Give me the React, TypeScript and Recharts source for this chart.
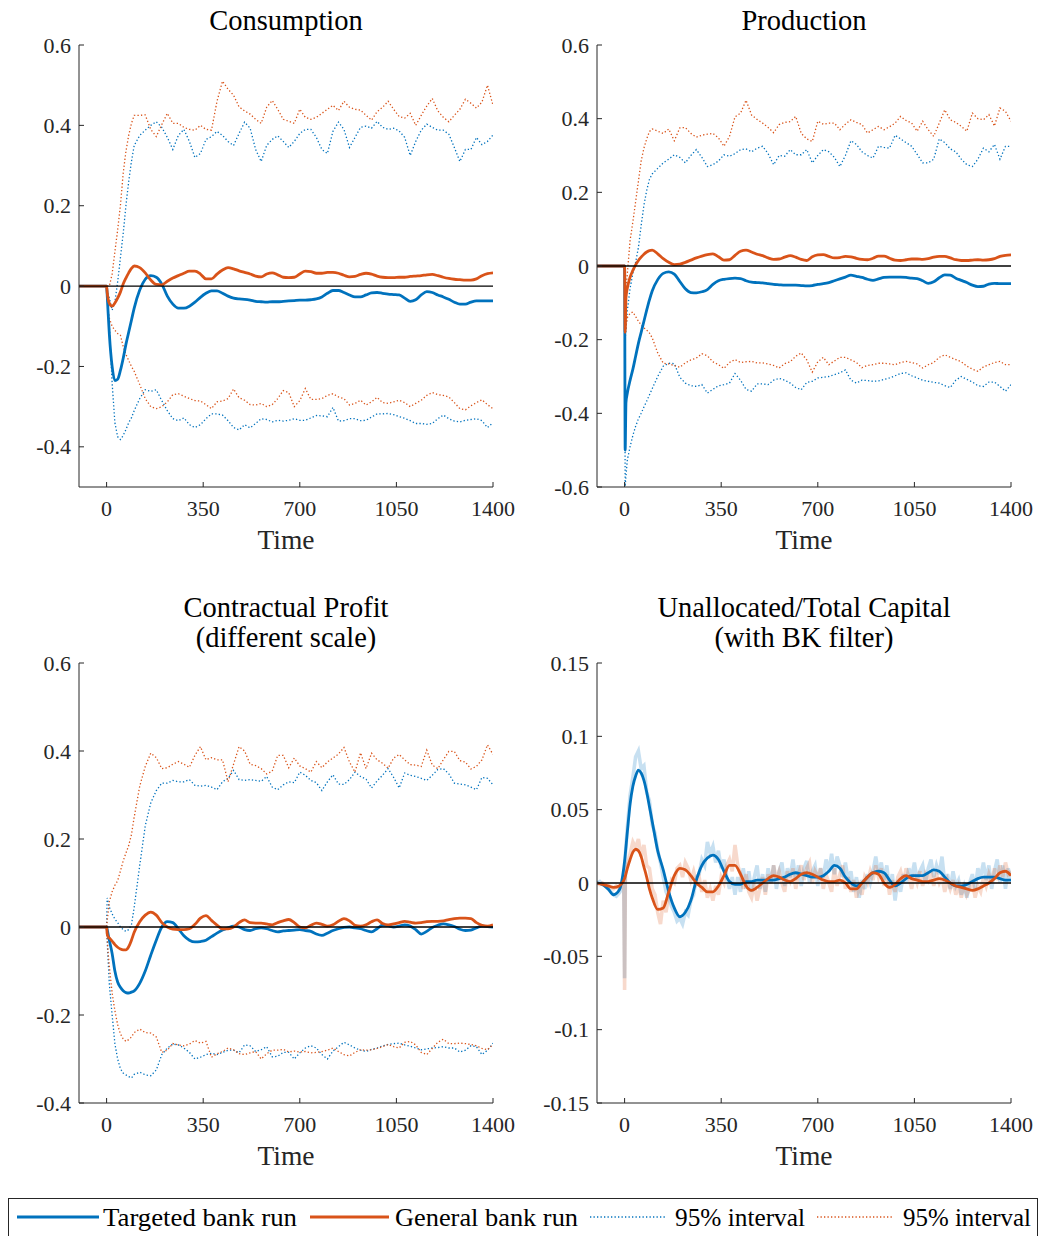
import React from 'react';
import { LineChart, Line, XAxis, YAxis, ReferenceLine } from 'recharts';

const BLUE = '#0072BD';
const ORANGE = '#D95319';
const INK = '#262626';
const FONT = '"Liberation Serif", "Times New Roman", serif';

// time grid shared by the first three panels
const timeGrid = [
  -100, 0, 2, 5, 10, 20, 30, 40, 50, 60, 70, 80, 90, 100,
  120, 140, 160, 180, 200, 220, 240, 260, 280, 300,
  320, 340, 360, 380, 400, 420, 440, 460, 480, 500,
  520, 540, 560, 580, 600, 620, 640, 660, 680, 700,
  720, 740, 760, 780, 800, 820, 840, 860, 880, 900,
  920, 940, 960, 980, 1000, 1020, 1040, 1060, 1080, 1100,
  1120, 1140, 1160, 1180, 1200, 1220, 1240, 1260, 1280, 1300,
  1320, 1340, 1360, 1380, 1400,
];
const xTicks = [0, 350, 700, 1050, 1400];
const xDomain = [-100, 1400];

// Consumption
const consTargeted = [
  0, 0, -0.02, -0.06, -0.12, -0.2, -0.235, -0.232, -0.21, -0.18, -0.145, -0.115, -0.085, -0.055,
  -0.01, 0.017, 0.026, 0.022, 0.005, -0.025, -0.045, -0.055, -0.055, -0.05,
  -0.04, -0.028, -0.018, -0.012, -0.012, -0.018, -0.025, -0.03, -0.032, -0.033,
  -0.035, -0.038, -0.039, -0.04, -0.039, -0.039, -0.038, -0.037, -0.036, -0.035,
  -0.035, -0.034, -0.032, -0.027, -0.018, -0.011, -0.011, -0.016, -0.022, -0.027,
  -0.027, -0.022, -0.017, -0.016, -0.018, -0.02, -0.021, -0.022, -0.03, -0.038,
  -0.034, -0.022, -0.014, -0.016, -0.022, -0.027, -0.033, -0.04, -0.045, -0.045,
  -0.04, -0.037, -0.037, -0.037, -0.037,
];
const consGeneral = [
  0, 0, -0.015, -0.03, -0.043, -0.05, -0.042, -0.03, -0.015, 0.005, 0.02, 0.033, 0.044, 0.05,
  0.046, 0.033, 0.015, 0.004, 0.003, 0.012, 0.02, 0.026, 0.032, 0.037,
  0.037, 0.03, 0.018, 0.018, 0.03, 0.04, 0.046, 0.043, 0.038, 0.034,
  0.03, 0.025, 0.023, 0.03, 0.033, 0.028, 0.022, 0.021, 0.022, 0.03,
  0.037, 0.036, 0.032, 0.032, 0.034, 0.034, 0.032, 0.027, 0.023, 0.024,
  0.029, 0.032, 0.03, 0.025, 0.022, 0.021, 0.021, 0.022, 0.022, 0.024,
  0.025, 0.026, 0.028, 0.029, 0.026, 0.022, 0.019, 0.017, 0.016, 0.015,
  0.015, 0.018, 0.026, 0.031, 0.033,
];
const consTargetedHi = [
  0, 0, -0.01, -0.02, -0.03, -0.06, -0.04, 0.01, 0.07, 0.13, 0.2, 0.26, 0.31, 0.35,
  0.375, 0.388, 0.4, 0.409, 0.395, 0.37, 0.34, 0.375, 0.39, 0.36,
  0.32, 0.33, 0.365, 0.372, 0.385, 0.375, 0.36, 0.35, 0.38, 0.408,
  0.393, 0.34, 0.31, 0.35, 0.365, 0.374, 0.36, 0.345, 0.36, 0.38,
  0.39, 0.39, 0.37, 0.34, 0.33, 0.385, 0.408, 0.39, 0.345, 0.37,
  0.395, 0.398, 0.393, 0.41, 0.395, 0.39, 0.393, 0.386, 0.37, 0.325,
  0.36, 0.388, 0.403, 0.395, 0.388, 0.388, 0.378, 0.345, 0.31, 0.34,
  0.34, 0.37, 0.352, 0.36, 0.376,
];
const consTargetedLo = [
  0, 0, -0.02, -0.05, -0.1, -0.24, -0.34, -0.375, -0.382, -0.372, -0.357, -0.34, -0.328, -0.31,
  -0.28, -0.258, -0.262, -0.258, -0.285, -0.31, -0.33, -0.335, -0.328, -0.345,
  -0.352, -0.345, -0.33, -0.318, -0.318, -0.321, -0.335, -0.352, -0.358, -0.345,
  -0.353, -0.342, -0.33, -0.332, -0.338, -0.334, -0.336, -0.334, -0.33, -0.334,
  -0.334, -0.328, -0.322, -0.323, -0.325, -0.302, -0.336, -0.335, -0.33, -0.33,
  -0.335, -0.334, -0.326, -0.318, -0.318, -0.317, -0.32, -0.325, -0.329, -0.335,
  -0.342, -0.342, -0.344, -0.342, -0.33, -0.321, -0.33, -0.336, -0.338, -0.334,
  -0.332, -0.33, -0.335, -0.352, -0.34,
];
const consGeneralHi = [
  0, 0, 0, 0, 0, 0.03, 0.085, 0.14, 0.2, 0.28, 0.335, 0.375, 0.405, 0.425,
  0.425, 0.426, 0.39, 0.372, 0.402, 0.43, 0.405, 0.405, 0.395, 0.39,
  0.388, 0.4, 0.39, 0.388, 0.46, 0.51, 0.49, 0.475, 0.446, 0.436,
  0.428, 0.415, 0.405, 0.445, 0.462, 0.44, 0.415, 0.41, 0.405, 0.44,
  0.42, 0.415, 0.42, 0.43, 0.44, 0.45, 0.437, 0.46, 0.445, 0.44,
  0.438, 0.425, 0.413, 0.434, 0.445, 0.46, 0.44, 0.422, 0.418, 0.43,
  0.4, 0.425, 0.448, 0.467, 0.436, 0.42, 0.409, 0.425, 0.44, 0.465,
  0.455, 0.443, 0.458, 0.5, 0.45,
];
const consGeneralLo = [
  0, 0, -0.03, -0.06, -0.08, -0.1, -0.11, -0.118, -0.122, -0.15, -0.17, -0.185, -0.2, -0.212,
  -0.245, -0.28, -0.3, -0.305, -0.3, -0.288, -0.27, -0.268, -0.274, -0.28,
  -0.285, -0.286, -0.295, -0.305, -0.288, -0.286, -0.28, -0.256, -0.278, -0.284,
  -0.295, -0.296, -0.292, -0.3, -0.295, -0.28, -0.26, -0.265, -0.3, -0.285,
  -0.255, -0.282, -0.282, -0.28, -0.272, -0.268, -0.276, -0.28, -0.296, -0.292,
  -0.284, -0.296, -0.288, -0.277, -0.29, -0.292, -0.288, -0.284, -0.29, -0.3,
  -0.292, -0.284, -0.272, -0.265, -0.27, -0.272, -0.276, -0.29, -0.305, -0.308,
  -0.298, -0.29, -0.283, -0.295, -0.305,
];

// Production
const prodTargeted = [
  0, 0, -0.5, -0.37, -0.345, -0.31, -0.28, -0.245, -0.21, -0.18, -0.15, -0.12, -0.092, -0.068,
  -0.037, -0.02, -0.016, -0.022, -0.042, -0.062, -0.072, -0.073, -0.07, -0.064,
  -0.05, -0.04, -0.036, -0.034, -0.033, -0.034, -0.04, -0.044, -0.045, -0.046,
  -0.048, -0.05, -0.051, -0.052, -0.052, -0.052, -0.053, -0.054, -0.053, -0.05,
  -0.048, -0.045, -0.04, -0.035, -0.03, -0.025, -0.028, -0.031, -0.036, -0.039,
  -0.035, -0.031, -0.03, -0.03, -0.03, -0.031, -0.033, -0.034, -0.04, -0.047,
  -0.043, -0.032, -0.024, -0.025, -0.033, -0.039, -0.045, -0.052, -0.056, -0.055,
  -0.049, -0.047, -0.048, -0.048, -0.048,
];
const prodGeneral = [
  0, 0, -0.18, -0.085, -0.06, -0.03, -0.012, 0.003, 0.015, 0.024, 0.032, 0.038, 0.042, 0.043,
  0.033, 0.02, 0.01, 0.004, 0.005, 0.01, 0.016, 0.022, 0.027, 0.031,
  0.033, 0.025, 0.016, 0.017, 0.029, 0.04, 0.043, 0.038, 0.032, 0.028,
  0.022, 0.018, 0.019, 0.024, 0.028, 0.024, 0.018, 0.015, 0.025, 0.03,
  0.031, 0.026, 0.022, 0.023, 0.026, 0.025, 0.021, 0.018, 0.017, 0.021,
  0.027, 0.027, 0.021, 0.016, 0.015, 0.017, 0.019, 0.019, 0.018, 0.02,
  0.024, 0.026, 0.026, 0.022, 0.017, 0.015, 0.015, 0.016, 0.017, 0.016,
  0.017, 0.02, 0.026, 0.029, 0.03,
];
const prodTargetedHi = [
  0, 0, -0.2, -0.17, -0.12, -0.06, -0.02, 0.01, 0.05, 0.11, 0.165, 0.205, 0.235, 0.25,
  0.265, 0.28, 0.29, 0.302, 0.295, 0.28, 0.3, 0.316, 0.295, 0.27,
  0.275, 0.285, 0.302, 0.298, 0.305, 0.316, 0.318, 0.31, 0.32, 0.325,
  0.305, 0.275, 0.3, 0.298, 0.316, 0.302, 0.302, 0.316, 0.28, 0.3,
  0.316, 0.31, 0.295, 0.27, 0.3, 0.34, 0.33, 0.31, 0.3, 0.293,
  0.325, 0.322, 0.32, 0.355, 0.345, 0.335, 0.325, 0.303, 0.28, 0.28,
  0.29, 0.345, 0.335, 0.318, 0.31, 0.29, 0.275, 0.27, 0.29, 0.32,
  0.31, 0.33, 0.29, 0.325, 0.325,
];
const prodTargetedLo = [
  0, 0, -0.598, -0.57, -0.526, -0.49, -0.46, -0.435, -0.415, -0.4, -0.383, -0.367, -0.35, -0.333,
  -0.3, -0.272, -0.264, -0.265, -0.302, -0.318, -0.325, -0.327, -0.322, -0.345,
  -0.335, -0.325, -0.322, -0.318, -0.292, -0.31, -0.335, -0.34, -0.32, -0.32,
  -0.322, -0.31, -0.305, -0.31, -0.318, -0.33, -0.336, -0.316, -0.313, -0.304,
  -0.302, -0.3, -0.295, -0.29, -0.282, -0.31, -0.318, -0.31, -0.311, -0.313,
  -0.312, -0.308, -0.304, -0.298, -0.292, -0.29, -0.298, -0.304, -0.31, -0.313,
  -0.316, -0.318, -0.325, -0.33, -0.31, -0.3, -0.308, -0.315, -0.325, -0.327,
  -0.315, -0.315, -0.327, -0.34, -0.322,
];
const prodGeneralHi = [
  0, 0, -0.1, -0.06, -0.02, 0.07, 0.12, 0.175, 0.23, 0.285, 0.32, 0.345, 0.365, 0.372,
  0.366, 0.36, 0.372, 0.34, 0.375, 0.376, 0.36, 0.35, 0.355, 0.358,
  0.36, 0.348, 0.325, 0.352, 0.405, 0.415, 0.45, 0.41, 0.398, 0.388,
  0.376, 0.362, 0.384, 0.39, 0.392, 0.406, 0.36, 0.345, 0.338, 0.393,
  0.385, 0.388, 0.388, 0.37, 0.385, 0.397, 0.39, 0.384, 0.361, 0.37,
  0.379, 0.37, 0.378, 0.388, 0.406, 0.395, 0.388, 0.366, 0.393, 0.37,
  0.352, 0.388, 0.424, 0.397, 0.39, 0.379, 0.366, 0.415, 0.4, 0.397,
  0.411, 0.38, 0.429, 0.42, 0.393,
];
const prodGeneralLo = [
  0, 0, -0.18, -0.165, -0.14, -0.128, -0.125, -0.137, -0.15, -0.16, -0.168, -0.174, -0.182, -0.195,
  -0.236, -0.264, -0.266, -0.27, -0.275, -0.263, -0.255, -0.25, -0.238, -0.244,
  -0.26, -0.268, -0.278, -0.262, -0.254, -0.262, -0.26, -0.259, -0.263, -0.263,
  -0.266, -0.27, -0.277, -0.265, -0.26, -0.245, -0.236, -0.255, -0.288, -0.26,
  -0.248, -0.268, -0.258, -0.248, -0.248, -0.255, -0.262, -0.276, -0.27, -0.268,
  -0.264, -0.264, -0.266, -0.268, -0.262, -0.259, -0.262, -0.266, -0.277, -0.268,
  -0.262, -0.248, -0.241, -0.248, -0.254, -0.26, -0.272, -0.28, -0.286, -0.274,
  -0.268, -0.262, -0.259, -0.268, -0.268,
];

// Contractual profit
const profTargeted = [
  0, 0, -0.005, -0.015, -0.03, -0.06, -0.1, -0.125, -0.137, -0.145, -0.149, -0.15, -0.148, -0.145,
  -0.128, -0.1, -0.064, -0.03, 0.0, 0.012, 0.01, -0.004, -0.02, -0.03,
  -0.034, -0.033, -0.03, -0.022, -0.014, -0.007, -0.002, 0.002, 0.0, -0.006,
  -0.008, -0.004, -0.002, -0.004, -0.008, -0.011, -0.009, -0.008, -0.007, -0.006,
  -0.008, -0.01, -0.016, -0.019, -0.014, -0.008, -0.004, -0.001, 0.0, -0.002,
  -0.004, -0.008, -0.011, -0.004, 0.004, 0.003, 0.0, 0.002, 0.005, 0.002,
  -0.006, -0.016, -0.01, -0.001, 0.004, 0.007, 0.005, 0.001, -0.005, -0.008,
  -0.007, -0.002, 0.002, 0.001, 0.0,
];
const profGeneral = [
  0, 0, -0.015, -0.022, -0.025, -0.032, -0.04, -0.046, -0.05, -0.052, -0.052, -0.045, -0.03, -0.012,
  0.012, 0.027, 0.034, 0.027, 0.01, 0.0, -0.005, -0.006, -0.006, -0.004,
  0.006, 0.02, 0.026, 0.015, 0.004, -0.004, -0.004, 0.0, 0.01, 0.016,
  0.01, 0.009, 0.009, 0.007, 0.005, 0.01, 0.014, 0.017, 0.01, 0.0,
  -0.002, 0.004, 0.009, 0.006, 0.002, 0.005, 0.013, 0.019, 0.014, 0.004,
  0.002, 0.005, 0.012, 0.016, 0.008, 0.005, 0.007, 0.01, 0.013, 0.011,
  0.009, 0.01, 0.012, 0.013, 0.013, 0.014, 0.017, 0.019, 0.02, 0.02,
  0.019, 0.01, 0.004, 0.002, 0.005,
];
const profTargetedHi = [
  0, 0, 0.066, 0.058, 0.045, 0.03, 0.018, 0.01, 0.0, -0.006, -0.01, -0.006, 0.005, 0.045,
  0.14, 0.23, 0.282, 0.31, 0.327, 0.327, 0.333, 0.33, 0.33, 0.335,
  0.322, 0.32, 0.322, 0.318, 0.312, 0.33, 0.338, 0.356, 0.335, 0.333,
  0.335, 0.333, 0.331, 0.342, 0.318, 0.312, 0.323, 0.33, 0.328, 0.352,
  0.345, 0.333, 0.328, 0.31, 0.33, 0.346, 0.325, 0.324, 0.335, 0.352,
  0.342, 0.336, 0.316, 0.332, 0.345, 0.36, 0.34, 0.316, 0.35, 0.345,
  0.342, 0.338, 0.333, 0.345, 0.358, 0.36, 0.348, 0.327, 0.325, 0.323,
  0.318, 0.312, 0.34, 0.338, 0.323,
];
const profTargetedLo = [
  0, 0, -0.03, -0.07, -0.13, -0.2, -0.265, -0.3, -0.322, -0.332, -0.336, -0.34, -0.343, -0.335,
  -0.33, -0.336, -0.338, -0.325, -0.29, -0.275, -0.266, -0.268, -0.275, -0.285,
  -0.3, -0.296, -0.29, -0.287, -0.29, -0.285, -0.28, -0.28, -0.286, -0.268,
  -0.27, -0.283, -0.279, -0.272, -0.295, -0.294, -0.285, -0.285, -0.3, -0.286,
  -0.275, -0.27, -0.275, -0.29, -0.3, -0.282, -0.272, -0.262, -0.268, -0.275,
  -0.28, -0.283, -0.278, -0.275, -0.27, -0.267, -0.265, -0.264, -0.268, -0.271,
  -0.275, -0.279, -0.277, -0.275, -0.274, -0.272, -0.275, -0.275, -0.284, -0.28,
  -0.27, -0.272, -0.29, -0.28, -0.264,
];
const profGeneralHi = [
  0, 0, 0.013, 0.03, 0.058, 0.08, 0.095, 0.105, 0.127, 0.15, 0.168, 0.185, 0.21, 0.25,
  0.32, 0.365, 0.395, 0.385, 0.36, 0.362, 0.37, 0.376, 0.37, 0.363,
  0.39, 0.41, 0.38, 0.385, 0.38, 0.38, 0.33, 0.37, 0.41, 0.4,
  0.37, 0.367, 0.36, 0.348, 0.354, 0.39, 0.39, 0.362, 0.384, 0.366,
  0.36, 0.352, 0.376, 0.362, 0.375, 0.384, 0.393, 0.408, 0.375, 0.352,
  0.396, 0.36, 0.395, 0.38, 0.372, 0.361, 0.384, 0.392, 0.38, 0.369,
  0.368, 0.365, 0.402, 0.368, 0.36, 0.38, 0.399, 0.399, 0.378, 0.375,
  0.359, 0.365, 0.38, 0.414, 0.392,
];
const profGeneralLo = [
  0, 0, -0.02, -0.055, -0.09, -0.15, -0.19, -0.222, -0.243, -0.254, -0.26, -0.256, -0.25, -0.24,
  -0.232, -0.24, -0.241, -0.25, -0.285, -0.28, -0.265, -0.268, -0.27, -0.266,
  -0.258, -0.264, -0.26, -0.296, -0.288, -0.283, -0.275, -0.279, -0.288, -0.29,
  -0.286, -0.283, -0.3, -0.288, -0.28, -0.28, -0.278, -0.284, -0.282, -0.284,
  -0.283, -0.286, -0.285, -0.283, -0.28, -0.275, -0.283, -0.29, -0.293, -0.285,
  -0.279, -0.28, -0.279, -0.276, -0.272, -0.267, -0.272, -0.275, -0.262, -0.26,
  -0.268, -0.285, -0.29, -0.276, -0.262, -0.255, -0.265, -0.265, -0.264, -0.265,
  -0.267, -0.27, -0.276, -0.279, -0.267,
];

// Unallocated / total capital: BK-filtered lines
const capTime = [
  -100, -80, -60, -40, -20, 0,
  10, 20, 30, 40, 50, 60, 70, 80, 90, 100,
  120, 140, 160, 180, 200, 220, 240, 260, 280, 300,
  320, 340, 360, 380, 400, 420, 440, 460, 480, 500,
  520, 540, 560, 580, 600, 620, 640, 660, 680, 700,
  720, 740, 760, 780, 800, 820, 840, 860, 880, 900,
  920, 940, 960, 980, 1000, 1020, 1040, 1060, 1080, 1100,
  1120, 1140, 1160, 1180, 1200, 1220, 1240, 1260, 1280, 1300,
  1320, 1340, 1360, 1380, 1400,
];
const capTargeted = [
  0, -0.001, -0.004, -0.008, -0.005, 0.015,
  0.035, 0.054, 0.066, 0.073, 0.077, 0.075, 0.07, 0.062, 0.052, 0.042,
  0.022, 0.009, -0.006, -0.017, -0.023, -0.02, -0.012, 0.002, 0.012, 0.017,
  0.019, 0.016, 0.008, 0.001, -0.001, -0.001, 0.001, 0.001, 0.002, 0.002,
  0.002, 0.002, 0.003, 0.004, 0.006, 0.007, 0.006, 0.005, 0.004, 0.004,
  0.005, 0.008, 0.012, 0.01, 0.004, 0.0, -0.002, 0.0, 0.004, 0.007,
  0.008, 0.007, 0.002, -0.002, 0.0, 0.003, 0.005, 0.005, 0.005, 0.007,
  0.009, 0.008, 0.004, 0.0, -0.002, -0.002, -0.001, 0.001, 0.003, 0.004,
  0.004, 0.004, 0.003, 0.002, 0.002,
];
const capGeneral = [
  0, -0.001, -0.002, -0.003, -0.002, 0.003,
  0.01, 0.016, 0.021, 0.023, 0.022, 0.018, 0.011, 0.004, -0.004, -0.01,
  -0.018, -0.017, -0.006, 0.005, 0.01, 0.009, 0.005, 0.0, -0.003, -0.006,
  -0.006, -0.002, 0.005, 0.012, 0.012, 0.006, -0.002, -0.005, -0.003, 0.0,
  0.003, 0.005, 0.004, 0.002, 0.001, 0.003, 0.006, 0.007, 0.006, 0.004,
  0.002, 0.001, 0.001, 0.002, 0.0, -0.004, -0.004, 0.0, 0.004, 0.007,
  0.006, 0.0, -0.003, -0.001, 0.003, 0.005, 0.003, 0.002, 0.001, 0.001,
  0.002, 0.003, 0.002, 0.0, -0.002, -0.003, -0.004, -0.005, -0.004, -0.002,
  0.0, 0.003, 0.007, 0.008, 0.005,
];

// Unallocated / total capital: unfiltered series (shaded)
const capRawTime = [
  -100, -90, -80, -70, -60, -50, -40, -30, -20, -10,
  -3, 0, 3,
  10, 20, 30, 40, 50, 60, 70, 80, 90, 100,
  110, 120, 130, 140, 150, 160, 170, 180, 190, 200,
  210, 220, 230, 240, 250, 260, 270, 280, 290, 300,
  310, 320, 330, 340, 350, 360, 370, 380, 390, 400,
  410, 420, 430, 440, 450, 460, 470, 480, 490, 500,
  510, 520, 530, 540, 550, 560, 570, 580, 590, 600,
  610, 620, 630, 640, 650, 660, 670, 680, 690, 700,
  710, 720, 730, 740, 750, 760, 770, 780, 790, 800,
  810, 820, 830, 840, 850, 860, 870, 880, 890, 900,
  910, 920, 930, 940, 950, 960, 970, 980, 990, 1000,
  1010, 1020, 1030, 1040, 1050, 1060, 1070, 1080, 1090, 1100,
  1110, 1120, 1130, 1140, 1150, 1160, 1170, 1180, 1190, 1200,
  1210, 1220, 1230, 1240, 1250, 1260, 1270, 1280, 1290, 1300,
  1310, 1320, 1330, 1340, 1350, 1360, 1370, 1380, 1390, 1400,
];
const capTargetedRaw = [
  0.0, 0.001, -0.001, -0.002, -0.004, -0.006, -0.008, -0.009, -0.007, -0.004,
  0.0, -0.065, 0.02,
  0.038, 0.06, 0.072, 0.086, 0.09, 0.078, 0.08, 0.062, 0.056, 0.04,
  0.034, 0.022, 0.014, 0.004, -0.006, -0.01, -0.016, -0.02, -0.026, -0.024,
  -0.028, -0.02, -0.022, -0.012, -0.008, 0.004, 0.006, 0.016, 0.012, 0.028,
  0.02, 0.025, 0.014, 0.022, 0.01, 0.016, 0.004, -0.004, 0.004, -0.008,
  0.004, -0.006, 0.01, -0.004, 0.008, -0.006, 0.004, 0.012, -0.004, 0.006,
  -0.006, 0.01, 0.0, 0.012, -0.004, 0.008, 0.014, -0.002, 0.01, 0.004,
  0.016, 0.002, 0.012, -0.002, 0.01, 0.015, 0.0, 0.008, 0.012, -0.002,
  0.01, 0.004, 0.016, 0.008, 0.02, 0.006, 0.018, 0.012, 0.004, 0.014,
  0.002, 0.008, -0.006, 0.004, -0.01, 0.002, -0.004, 0.006, 0.0, 0.008,
  0.018, 0.006, 0.014, 0.002, 0.012, -0.004, 0.006, -0.012, 0.002, -0.006,
  0.006, 0.0, 0.01, 0.004, 0.014, 0.002, 0.008, 0.012, 0.0, 0.01,
  0.016, 0.004, 0.012, 0.006, 0.018, 0.0, 0.006, -0.004, 0.008, -0.002,
  0.002, -0.008, -0.002, -0.01, 0.0, 0.006, -0.004, 0.01, 0.004, 0.014,
  0.002, 0.012, -0.004, 0.008, 0.016, 0.0, 0.012, -0.004, 0.01, 0.002,
];
const capGeneralRaw = [
  0.0, -0.001, 0.0, -0.002, -0.001, -0.003, -0.004, -0.002, -0.004, -0.002,
  0.004, -0.073, 0.01,
  0.012, 0.02, 0.028, 0.024, 0.03, 0.018, 0.026, 0.012, 0.01, -0.004,
  -0.008, -0.02, -0.028, -0.012, -0.02, -0.008, 0.002, 0.0, 0.01, 0.012,
  0.004, 0.014, 0.01, 0.002, 0.008, 0.0, 0.004, -0.006, 0.002, -0.01,
  -0.004, -0.012, -0.002, -0.008, 0.004, 0.0, 0.012, 0.016, 0.008, 0.026,
  0.012, 0.006, -0.004, 0.006, -0.006, -0.01, 0.0, -0.012, -0.004, 0.004,
  -0.008, 0.006, 0.0, 0.012, 0.002, 0.008, 0.0, -0.006, 0.008, 0.002,
  0.01, -0.004, 0.006, 0.012, 0.002, 0.01, 0.014, 0.0, 0.008, 0.004,
  0.01, -0.004, 0.006, 0.0, -0.006, 0.01, -0.002, 0.006, 0.012, -0.004,
  0.004, -0.006, 0.002, -0.01, -0.002, -0.008, 0.004, 0.0, 0.008, 0.002,
  0.012, 0.004, 0.01, -0.002, 0.006, -0.008, 0.002, -0.006, 0.004, 0.008,
  0.0, 0.01, 0.004, -0.004, 0.006, 0.0, 0.008, -0.002, 0.006, 0.002,
  0.008, -0.002, 0.006, 0.0, 0.004, -0.006, 0.002, -0.004, 0.002, -0.008,
  -0.002, -0.01, 0.0, -0.008, -0.004, 0.002, -0.01, -0.002, -0.006, 0.004,
  -0.002, 0.006, 0.0, 0.01, 0.002, 0.012, 0.004, 0.014, 0.006, 0.008,
];

const yTicksCons = [-0.4, -0.2, 0, 0.2, 0.4, 0.6];
const yTicksProd = [-0.6, -0.4, -0.2, 0, 0.2, 0.4, 0.6];
const yTicksProf = [-0.4, -0.2, 0, 0.2, 0.4, 0.6];
const yTicksCap = [-0.15, -0.1, -0.05, 0, 0.05, 0.1, 0.15];

type Row = { t: number; [k: string]: number };
type Kind = 'solid' | 'dotted' | 'raw';
type Series = { key: string; color: string; kind: Kind };

function makeRows(time: number[], cols: Record<string, number[]>): Row[] {
  return time.map((t, i) => {
    const row: Row = { t };
    Object.keys(cols).forEach((k) => {
      row[k] = cols[k][i];
    });
    return row;
  });
}

function mergeRows(a: Row[], b: Row[]): Row[] {
  const m = new Map<number, Row>();
  [...a, ...b].forEach((r) => m.set(r.t, { ...(m.get(r.t) || {}), ...r }));
  return [...m.values()].sort((p, q) => p.t - q.t);
}

const consData = makeRows(timeGrid, {
  tgt: consTargeted, gen: consGeneral,
  tgtHi: consTargetedHi, tgtLo: consTargetedLo, genHi: consGeneralHi, genLo: consGeneralLo,
});
const prodData = makeRows(timeGrid, {
  tgt: prodTargeted, gen: prodGeneral,
  tgtHi: prodTargetedHi, tgtLo: prodTargetedLo, genHi: prodGeneralHi, genLo: prodGeneralLo,
});
const profData = makeRows(timeGrid, {
  tgt: profTargeted, gen: profGeneral,
  tgtHi: profTargetedHi, tgtLo: profTargetedLo, genHi: profGeneralHi, genLo: profGeneralLo,
});
const capData = mergeRows(
  makeRows(capTime, { tgt: capTargeted, gen: capGeneral }),
  makeRows(capRawTime, { tgtRaw: capTargetedRaw, genRaw: capGeneralRaw })
);

const bandSeries: Series[] = [
  { key: 'tgtHi', color: BLUE, kind: 'dotted' },
  { key: 'tgtLo', color: BLUE, kind: 'dotted' },
  { key: 'genHi', color: ORANGE, kind: 'dotted' },
  { key: 'genLo', color: ORANGE, kind: 'dotted' },
  { key: 'tgt', color: BLUE, kind: 'solid' },
  { key: 'gen', color: ORANGE, kind: 'solid' },
];
const capSeries: Series[] = [
  { key: 'tgtRaw', color: BLUE, kind: 'raw' },
  { key: 'genRaw', color: ORANGE, kind: 'raw' },
  { key: 'tgt', color: BLUE, kind: 'solid' },
  { key: 'gen', color: ORANGE, kind: 'solid' },
];

const W = 520;
const H = 570;
const TICK_LEN = 5;
const tickTextStyle = { fontFamily: FONT, fontSize: 22 };

const BottomTick = (props: any) => {
  const { x, y, payload } = props;
  return (
    <g>
      <line x1={x} x2={x} y1={y} y2={y - TICK_LEN} stroke={INK} strokeWidth={1} />
      <text x={x} y={y + 29} textAnchor="middle" fill={INK} style={tickTextStyle}>
        {payload.value}
      </text>
    </g>
  );
};
const TopTick = (props: any) => {
  const { x, y } = props;
  return <line x1={x} x2={x} y1={y} y2={y + TICK_LEN} stroke={INK} strokeWidth={1} />;
};
const LeftTick = (props: any) => {
  const { x, y, payload } = props;
  return (
    <g>
      <line x1={x} x2={x + TICK_LEN} y1={y} y2={y} stroke={INK} strokeWidth={1} />
      <text x={x - 8} y={y + 7.5} textAnchor="end" fill={INK} style={tickTextStyle}>
        {String(payload.value)}
      </text>
    </g>
  );
};
const RightTick = (props: any) => {
  const { x, y } = props;
  return <line x1={x} x2={x - TICK_LEN} y1={y} y2={y} stroke={INK} strokeWidth={1} />;
};

const timeLabel = (props: any) => {
  const vb = props.viewBox || {};
  return (
    <text
      x={vb.x + vb.width / 2}
      y={vb.y + 62}
      textAnchor="middle"
      fill={INK}
      style={{ fontFamily: FONT, fontSize: 27.5 }}
    >
      Time
    </text>
  );
};

function lineProps(s: Series) {
  if (s.kind === 'solid') return { type: 'monotone' as const, strokeWidth: 2.8 };
  if (s.kind === 'dotted') return { type: 'linear' as const, strokeWidth: 1.3, strokeDasharray: '1.3 2.2' };
  return { type: 'linear' as const, strokeWidth: 3.6, strokeOpacity: 0.22 };
}

function Panel(props: {
  left: number; top: number; data: Row[]; yDomain: number[]; yTicks: number[];
  series: Series[]; xAxisHeight: number;
}) {
  const { left, top, data, yDomain, yTicks, series, xAxisHeight } = props;
  return (
    <div style={{ position: 'absolute', left, top, width: W, height: H }}>
      <LineChart width={W} height={H} data={data} margin={{ top: 45, right: 27, left: 19, bottom: 0 }}>
        {series.map((s) => (
          <Line
            key={s.key}
            dataKey={s.key}
            stroke={s.color}
            dot={false}
            activeDot={false}
            connectNulls
            isAnimationActive={false}
            {...lineProps(s)}
          />
        ))}
        <ReferenceLine y={0} stroke="#000" strokeWidth={1.3} />
        <XAxis
          dataKey="t"
          type="number"
          domain={xDomain}
          ticks={xTicks}
          interval={0}
          height={xAxisHeight}
          allowDataOverflow
          tickLine={false}
          tickSize={0}
          tickMargin={0}
          tick={<BottomTick />}
          axisLine={{ stroke: INK }}
          label={{ value: 'Time', content: timeLabel }}
        />
        <XAxis
          xAxisId="top"
          orientation="top"
          dataKey="t"
          type="number"
          domain={xDomain}
          ticks={xTicks}
          interval={0}
          height={0}
          allowDataOverflow
          tickLine={false}
          tickSize={0}
          tickMargin={0}
          tick={<TopTick />}
          axisLine={{ stroke: INK }}
        />
        <YAxis
          type="number"
          domain={yDomain}
          ticks={yTicks}
          interval={0}
          width={60}
          allowDataOverflow
          tickLine={false}
          tickSize={0}
          tickMargin={0}
          tick={<LeftTick />}
          axisLine={{ stroke: INK }}
        />
        <YAxis
          yAxisId="right"
          orientation="right"
          type="number"
          domain={yDomain}
          ticks={yTicks}
          interval={0}
          width={0}
          allowDataOverflow
          tickLine={false}
          tickSize={0}
          tickMargin={0}
          tick={<RightTick />}
          axisLine={{ stroke: INK }}
        />
      </LineChart>
    </div>
  );
}

const titleStyle = { fontFamily: FONT, fontSize: 28.5 };
const legendStyle = { fontFamily: FONT, fontSize: 26 };

export default function App() {
  return (
    <div style={{ position: 'absolute', left: 0, top: 0, width: 1041, height: 1236, background: '#fff', overflow: 'hidden' }}>
      <Panel left={0} top={0} data={consData} yDomain={[-0.5, 0.6]} yTicks={yTicksCons} series={bandSeries} xAxisHeight={83} />
      <Panel left={518} top={0} data={prodData} yDomain={[-0.6, 0.6]} yTicks={yTicksProd} series={bandSeries} xAxisHeight={83} />
      <Panel left={0} top={618} data={profData} yDomain={[-0.4, 0.6]} yTicks={yTicksProf} series={bandSeries} xAxisHeight={85} />
      <Panel left={518} top={618} data={capData} yDomain={[-0.15, 0.15]} yTicks={yTicksCap} series={capSeries} xAxisHeight={85} />

      <svg width={1041} height={1236} style={{ position: 'absolute', left: 0, top: 0, pointerEvents: 'none' }}>
        <g fill="#000" textAnchor="middle" style={titleStyle}>
          <text x={286} y={30}>Consumption</text>
          <text x={804} y={30}>Production</text>
          <text x={286} y={617}>Contractual Profit</text>
          <text x={286} y={647}>(different scale)</text>
          <text x={804} y={617}>Unallocated/Total Capital</text>
          <text x={804} y={647}>(with BK filter)</text>
        </g>

        <rect x={8.5} y={1198.5} width={1029} height={44} fill="#fff" stroke={INK} strokeWidth={1} />
        <line x1={17} x2={99} y1={1217} y2={1217} stroke={BLUE} strokeWidth={2.8} />
        <line x1={310} x2={389} y1={1217} y2={1217} stroke={ORANGE} strokeWidth={2.8} />
        <line x1={590} x2={667} y1={1217} y2={1217} stroke={BLUE} strokeWidth={1.3} strokeDasharray="1.3 2.2" />
        <line x1={817} x2={893} y1={1217} y2={1217} stroke={ORANGE} strokeWidth={1.3} strokeDasharray="1.3 2.2" />
        <g fill="#000" style={legendStyle}>
          <text x={103} y={1226} textLength={194} lengthAdjust="spacingAndGlyphs">Targeted bank run</text>
          <text x={395} y={1226} textLength={183} lengthAdjust="spacingAndGlyphs">General bank run</text>
          <text x={675} y={1226} textLength={130} lengthAdjust="spacingAndGlyphs">95% interval</text>
          <text x={903} y={1226} textLength={128} lengthAdjust="spacingAndGlyphs">95% interval</text>
        </g>
      </svg>
    </div>
  );
}
